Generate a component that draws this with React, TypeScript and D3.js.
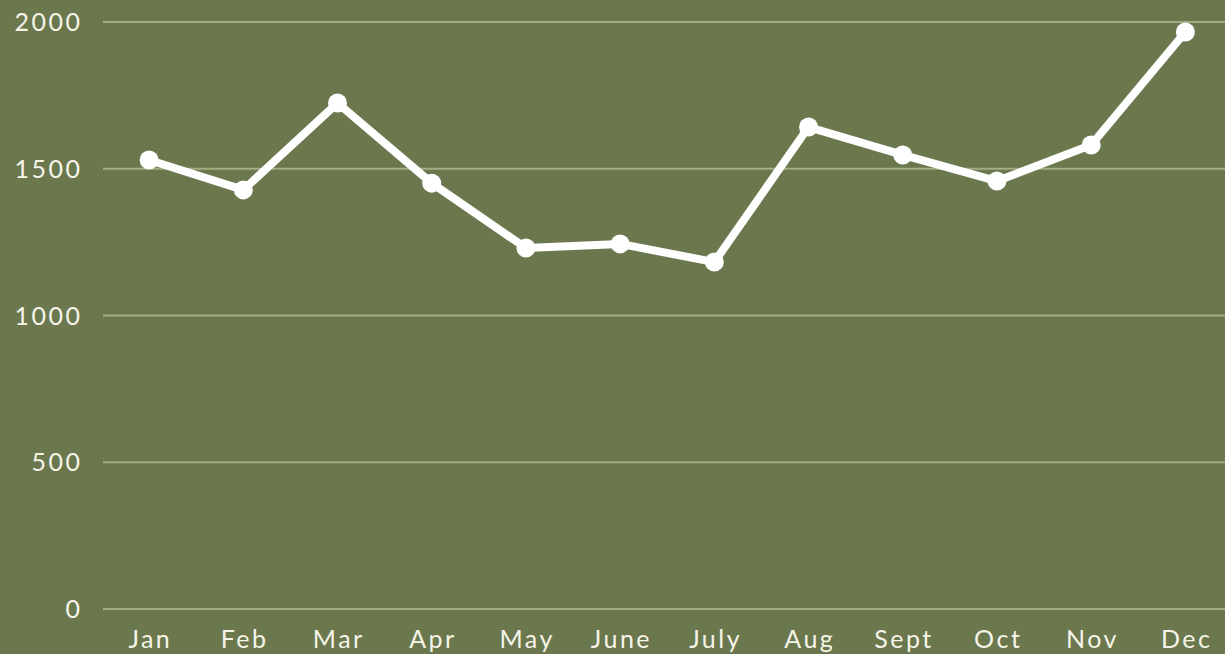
import React from "react";
import * as d3 from "d3";

const months = ["Jan", "Feb", "Mar", "Apr", "May", "June", "July", "Aug", "Sept", "Oct", "Nov", "Dec"];
const values = [1530, 1428, 1724, 1451, 1230, 1244, 1182, 1642, 1547, 1458, 1581, 1966];
const yTicks = [0, 500, 1000, 1500, 2000];

const W = 1225;
const H = 654;
const BG = "#6b784e";
const GRID = "#a2ac85";
const TEXT = "#f6f4e8";
const LS = 2.5;

export default function App() {
  const x = d3.scaleBand<string>().domain(months).range([102, 1232.5]);
  const y = d3.scaleLinear().domain([0, 2000]).range([609, 22]);
  const line = d3
    .line<number>()
    .x((_, i) => (x(months[i]) as number) + x.bandwidth() / 2)
    .y((d) => y(d));

  return (
    <svg
      width={W}
      height={H}
      style={{ position: "absolute", left: 0, top: 0, display: "block" }}
      fontFamily="Lato, 'Open Sans', sans-serif"
    >
      <rect x={0} y={0} width={W} height={H} fill={BG} />
      {yTicks.map((t) => (
        <g key={t}>
          <line x1={103} x2={W} y1={y(t)} y2={y(t)} stroke={GRID} strokeWidth={2} />
          <text
            x={80 + LS}
            y={y(t)}
            dy="0.36em"
            textAnchor="end"
            fill={TEXT}
            fontSize={25}
            letterSpacing={LS}
          >
            {t}
          </text>
        </g>
      ))}
      {months.map((m) => (
        <text
          key={m}
          x={(x(m) as number) + x.bandwidth() / 2 + LS / 2}
          y={648}
          textAnchor="middle"
          fill={TEXT}
          fontSize={25}
          letterSpacing={LS}
        >
          {m}
        </text>
      ))}
      <path d={line(values) || ""} fill="none" stroke="#ffffff" strokeWidth={8} strokeLinejoin="round" />
      {values.map((v, i) => (
        <circle
          key={i}
          cx={(x(months[i]) as number) + x.bandwidth() / 2}
          cy={y(v)}
          r={9.5}
          fill="#ffffff"
        />
      ))}
    </svg>
  );
}
